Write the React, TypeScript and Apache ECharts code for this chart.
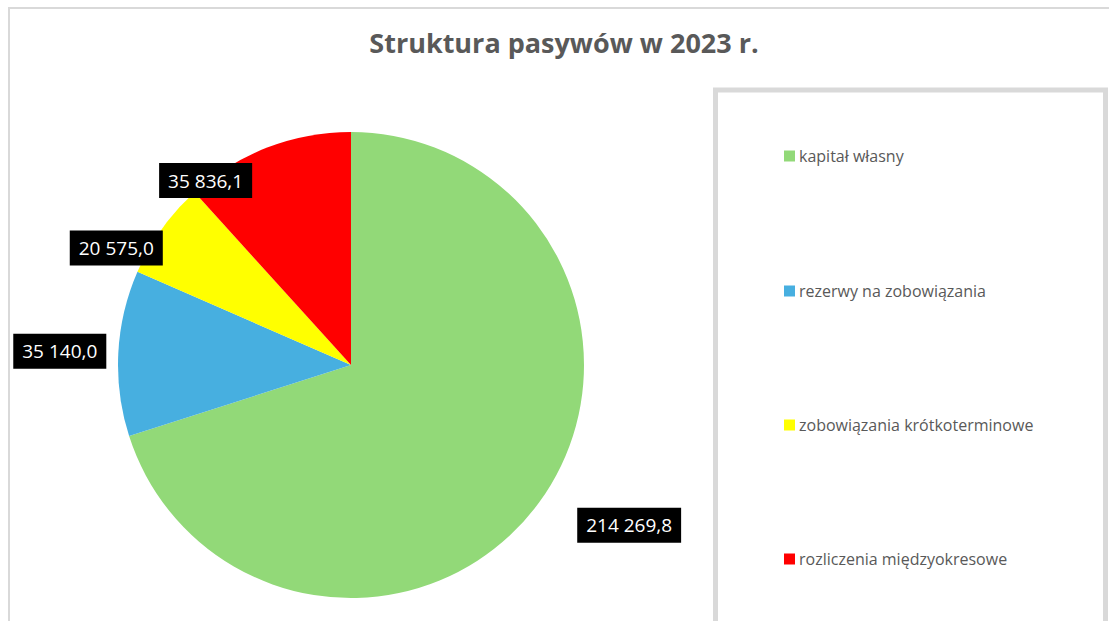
import React, { useEffect, useRef } from "react";
import * as echarts from "echarts";

const titleText = "Struktura pasywów w 2023 r.";
const categories = [
  "kapitał własny",
  "rezerwy na zobowiązania",
  "zobowiązania krótkoterminowe",
  "rozliczenia międzyokresowe",
];
const values = [214269.8, 35140.0, 20575.0, 35836.1];
const colors = ["#92D978", "#47AFE0", "#FFFF00", "#FF0000"];
// label offsets from the pie's own outside anchor (px)
const labelShiftX = [38, -12, 1, -15];
const labelShiftY = [23, -2, 19, 33];
const legendTops = [148, 283, 417, 551];

const FONT = "'Open Sans', 'Noto Sans', sans-serif";

function fmt(v: number): string {
  const fixed = v.toFixed(1);
  const [intPart, dec] = fixed.split(".");
  const withSpaces = intPart.replace(/\B(?=(\d{3})+(?!\d))/g, " ");
  return withSpaces + "," + dec;
}

export default function App() {
  const ref = useRef<HTMLDivElement>(null);
  useEffect(() => {
    if (!ref.current) return;
    const chart = echarts.init(ref.current, null, { renderer: "svg" });
    chart.setOption({
      animation: false,
      backgroundColor: "#ffffff",
      title: {
        text: titleText,
        left: 564,
        textAlign: "center",
        top: 24,
        padding: 0,
        textStyle: {
          fontFamily: FONT,
          fontSize: 27,
          fontWeight: "bold",
          color: "#595959",
          lineHeight: 36,
        },
      },
      legend: categories.map((c, i) => ({
        data: [c],
        orient: "vertical",
        left: 784,
        top: legendTops[i],
        padding: 0,
        icon: "rect",
        itemWidth: 11,
        itemHeight: 11,
        itemGap: 4,
        selectedMode: false,
        textStyle: {
          fontFamily: FONT,
          fontSize: 16,
          color: "#595959",
          padding: [0, 0, 0, -1],
        },
      })),
      graphic: [
        {
          type: "rect",
          shape: { x: 9, y: 8, width: 1300, height: 800 },
          style: { fill: "none", stroke: "#D9D9D9", lineWidth: 2 },
          silent: true,
          z: -1,
        },
        {
          type: "rect",
          shape: { x: 715.5, y: 90, width: 390, height: 700 },
          style: { fill: "none", stroke: "#D9D9D9", lineWidth: 5 },
          silent: true,
          z: -1,
        },
      ],
      series: [
        {
          type: "pie",
          center: [351, 365],
          radius: 233,
          startAngle: 90,
          clockwise: true,
          avoidLabelOverlap: false,
          data: categories.map((c, i) => ({
            name: c,
            value: values[i],
            itemStyle: { color: colors[i] },
          })),
          itemStyle: { borderWidth: 0 },
          emphasis: { disabled: true },
          label: {
            show: true,
            position: "outside",
            formatter: (p: any) => fmt(p.value),
            fontFamily: FONT,
            fontSize: 19,
            color: "#ffffff",
            backgroundColor: "#000000",
            padding: [6, 9, 6, 9],
            lineHeight: 23,
            distanceToLabelLine: 0,
          },
          labelLine: { show: false, length: 0, length2: 0 },
          labelLayout: (p: any) => ({
            dx: labelShiftX[p.dataIndex],
            dy: labelShiftY[p.dataIndex],
          }),
        },
      ],
    });
    return () => chart.dispose();
  }, []);
  return (
    <div
      ref={ref}
      style={{ position: "fixed", left: 0, top: 0, width: 1109, height: 621 }}
    />
  );
}
